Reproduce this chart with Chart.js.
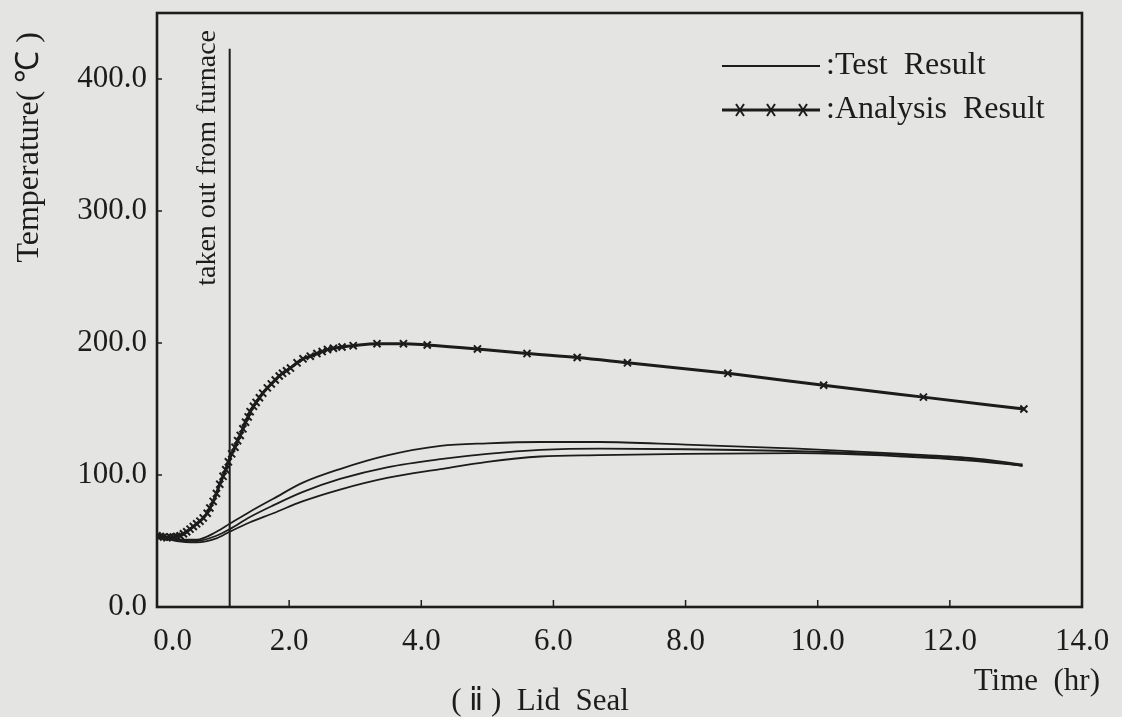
<!DOCTYPE html>
<html>
<head>
<meta charset="utf-8">
<script src="https://cdn.jsdelivr.net/npm/chart.js@4.4.0/dist/chart.umd.min.js"></script>
<style>
  html, body { margin: 0; padding: 0; background: #e4e4e2; }
  #wrap { width: 1122px; height: 717px; }
</style>
</head>
<body>
<div id="wrap"><canvas id="lidSeal" width="1122" height="717"></canvas></div>
<script>
// lid seal temperature
var analysisTime = [0.00, 0.05, 0.10, 0.15, 0.20, 0.25, 0.30, 0.35, 0.40, 0.45, 0.50, 0.55, 0.60, 0.65, 0.70, 0.76,
  0.80, 0.85, 0.90, 0.95, 1.00, 1.04, 1.08, 1.13, 1.18, 1.22, 1.26, 1.30, 1.34, 1.38, 1.41, 1.46, 1.50, 1.55, 1.60,
  1.67, 1.73, 1.79, 1.85, 1.90, 1.96, 2.02, 2.12, 2.21, 2.32, 2.42, 2.50, 2.58, 2.67, 2.80, 2.97, 3.33, 3.73, 4.09,
  4.85, 5.60, 6.36, 7.12, 8.64, 10.09, 11.60, 13.12];
var analysisTemp = [54, 53.5, 53, 52.5, 53, 53, 53.5, 54, 55.5, 57, 59, 61, 63, 65, 67.5, 71,
  75, 80, 86, 93, 99, 104, 110, 116, 121, 126, 130, 135, 140, 144, 148, 152, 155, 158.5, 162,
  166, 169, 172, 175, 177, 179, 181, 185, 188, 190, 192, 193.5, 195, 196, 197, 198, 199.5, 199.5, 198.5,
  195.5, 192, 189, 185, 177, 168, 159, 150];

var testTime  = [0, 0.3, 0.6, 0.9, 1.1, 1.4, 1.76, 2.2, 2.77, 3.5, 4.29, 5.0, 5.8, 6.7, 8.0, 9.7, 11.3, 12.3, 13.1];
var testTemp1 = [54, 51, 51, 57, 63, 72, 82, 94, 104.5, 115, 122, 124, 125, 125, 123, 120, 116, 113, 108];
var testTemp2 = [54, 51, 50, 54, 59, 68, 77, 87, 97, 106, 112, 116, 119, 120, 119.5, 118, 115, 112, 107];
var testTemp3 = [54, 50, 49, 52, 57, 64, 71, 80, 89, 98, 104.5, 110, 114, 115, 116, 116.5, 114, 111, 107];

var xTicks = [0, 2, 4, 6, 8, 10, 12, 14];
var yTicks = [0, 100, 200, 300, 400];

var furnaceTime = 1.1;   // "taken out from furnace"
var furnaceTop = 423;

var ink = '#1c1c1c';
var serif = "'Liberation Serif', 'Times New Roman', serif";

function pts(xs, ys) {
  return xs.map(function (x, i) { return { x: x, y: ys[i] }; });
}

function testSet(ys) {
  return {
    data: pts(testTime, ys),
    showLine: true,
    borderColor: ink,
    borderWidth: 1.8,
    pointRadius: 0,
    cubicInterpolationMode: 'monotone'
  };
}

var decor = {
  id: 'decor',
  afterDraw: function (chart) {
    var ctx = chart.ctx;
    var a = chart.chartArea;
    var xs = chart.scales.x, ys = chart.scales.y;
    ctx.save();
    ctx.strokeStyle = ink;
    ctx.fillStyle = ink;

    // frame
    ctx.lineWidth = 2.6;
    ctx.strokeRect(a.left, a.top, a.right - a.left, a.bottom - a.top);

    // inward tick marks
    ctx.lineWidth = 1.5;
    ctx.beginPath();
    yTicks.forEach(function (v) {
      var y = ys.getPixelForValue(v);
      ctx.moveTo(a.left, y); ctx.lineTo(a.left + 5, y);
    });
    xTicks.forEach(function (v) {
      var x = xs.getPixelForValue(v);
      ctx.moveTo(x, a.bottom); ctx.lineTo(x, a.bottom - 7);
    });
    ctx.stroke();

    // furnace line + label
    var fx = xs.getPixelForValue(furnaceTime);
    ctx.lineWidth = 2;
    ctx.beginPath();
    ctx.moveTo(fx, ys.getPixelForValue(furnaceTop));
    ctx.lineTo(fx, a.bottom);
    ctx.stroke();

    ctx.font = '28px ' + serif;
    ctx.textBaseline = 'middle';
    ctx.save();
    ctx.translate(fx - 22, 30);
    ctx.rotate(-Math.PI / 2);
    ctx.textAlign = 'right';
    ctx.fillText('taken out from furnace', 0, 0);
    ctx.restore();

    // y axis title
    ctx.save();
    ctx.font = '32px ' + serif;
    ctx.translate(30, 32);
    ctx.rotate(-Math.PI / 2);
    ctx.textAlign = 'right';
    ctx.fillText('Temperature( \u2103 )', 0, 0);
    ctx.restore();

    // legend
    ctx.font = '32px ' + serif;
    ctx.textAlign = 'left';
    ctx.lineWidth = 1.8;
    ctx.beginPath();
    ctx.moveTo(722, 66); ctx.lineTo(820, 66);
    ctx.stroke();
    ctx.fillText(':Test  Result', 826, 66);

    ctx.lineWidth = 3;
    ctx.beginPath();
    ctx.moveTo(722, 110); ctx.lineTo(820, 110);
    ctx.stroke();
    ctx.lineWidth = 2;
    [740, 771, 803].forEach(function (mx) {
      ctx.beginPath();
      ctx.moveTo(mx - 4, 104); ctx.lineTo(mx + 4, 116);
      ctx.moveTo(mx + 4, 104); ctx.lineTo(mx - 4, 116);
      ctx.stroke();
    });
    ctx.fillText(':Analysis  Result', 826, 110);

    // x title and caption
    ctx.font = '31px ' + serif;
    ctx.textAlign = 'right';
    ctx.fillText('Time  (hr)', 1100, 682);
    ctx.textAlign = 'center';
    ctx.fillText('( \u2171 )  Lid  Seal', 540, 702);

    ctx.restore();
  }
};

new Chart(document.getElementById('lidSeal'), {
  type: 'scatter',
  data: {
    datasets: [
      testSet(testTemp1),
      testSet(testTemp2),
      testSet(testTemp3),
      {
        data: pts(analysisTime, analysisTemp),
        showLine: true,
        borderColor: ink,
        borderWidth: 3,
        pointStyle: 'crossRot',
        pointRadius: 5,
        pointBorderWidth: 2,
        pointBorderColor: ink,
        cubicInterpolationMode: 'monotone'
      }
    ]
  },
  options: {
    responsive: false,
    animation: false,
    layout: { padding: { top: 13, right: 40, left: 0, bottom: 0 } },
    plugins: {
      legend: { display: false },
      tooltip: { enabled: false }
    },
    scales: {
      x: {
        type: 'linear',
        min: 0,
        max: 14,
        grid: { display: false, drawTicks: false },
        border: { display: false },
        afterBuildTicks: function (s) { s.ticks = xTicks.map(function (v) { return { value: v }; }); },
        afterFit: function (s) { s.height = 110; s.paddingLeft = 0; s.paddingRight = 0; },
        ticks: {
          color: ink,
          padding: 16,
          maxRotation: 0,
          autoSkip: false,
          font: { family: serif, size: 31 },
          callback: function (v) {
            // first label sits a little right of the corner
            return v === 0 ? '\u2007\u20070.0' : Number(v).toFixed(1);
          }
        }
      },
      y: {
        min: 0,
        max: 450,
        grid: { display: false, drawTicks: false },
        border: { display: false },
        afterBuildTicks: function (s) { s.ticks = yTicks.map(function (v) { return { value: v }; }); },
        afterFit: function (s) { s.width = 157; s.paddingTop = 0; s.paddingBottom = 0; },
        ticks: {
          color: ink,
          padding: 10,
          font: { family: serif, size: 31 },
          callback: function (v) { return Number(v).toFixed(1); }
        }
      }
    }
  },
  plugins: [decor]
});
</script>
</body>
</html>
